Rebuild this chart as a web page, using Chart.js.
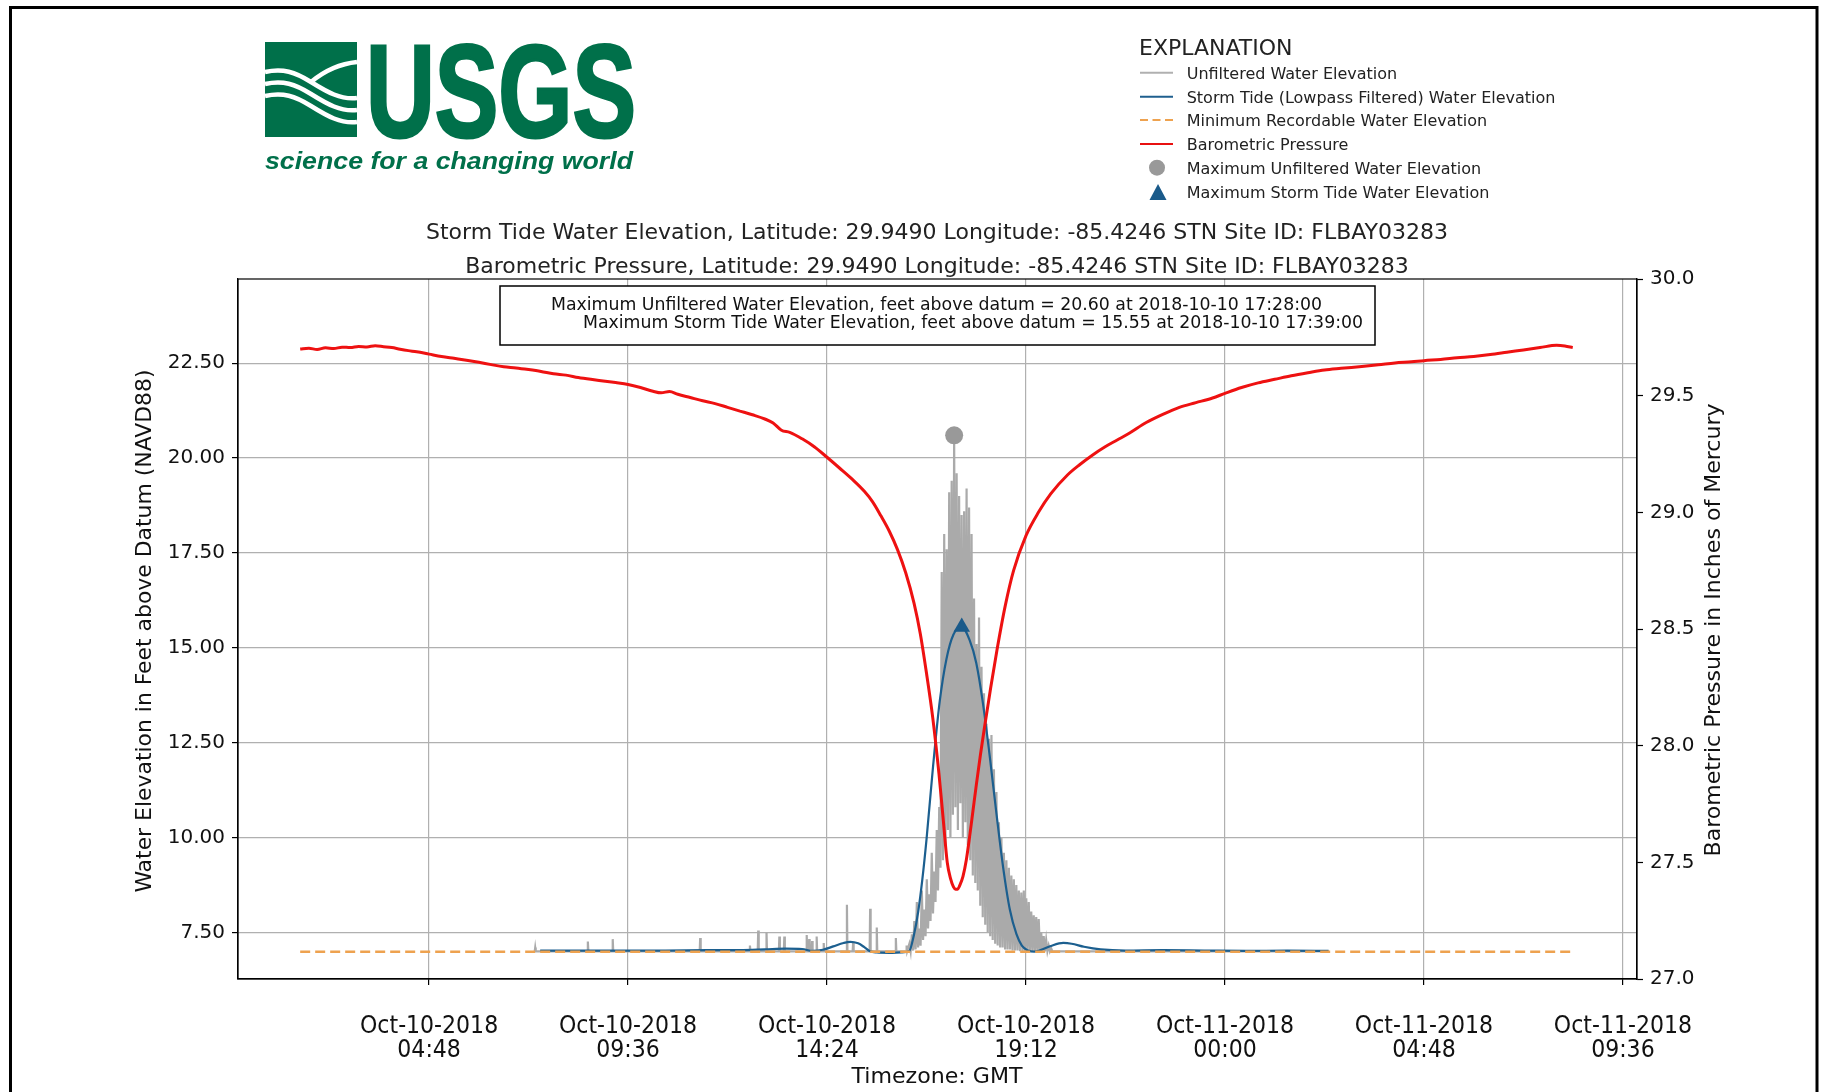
<!DOCTYPE html>
<html>
<head>
<meta charset="utf-8">
<title>Storm Tide Water Elevation - FLBAY03283</title>
<script src="https://cdn.jsdelivr.net/npm/chart.js@4.4.1/dist/chart.umd.min.js"></script>
<style>
  html, body { margin: 0; padding: 0; background: #fff; }
  #wrap { position: relative; width: 1823px; height: 1092px; overflow: hidden; }
  #chart { position: absolute; left: 0; top: 0; }
  #overlay { position: absolute; left: 0; top: 0; pointer-events: none; }
</style>
</head>
<body>
<div id="wrap">
<canvas id="chart" width="1823" height="1092"></canvas>
<svg id="overlay" width="1823" height="1092" viewBox="0 0 1823 1092" font-family="'DejaVu Sans', sans-serif">
  <!-- outer frame -->
  <rect x="10.5" y="7.5" width="1806.5" height="1200" fill="none" stroke="#000" stroke-width="3"/>

  <!-- logo -->
  <g transform="translate(265,42)">
    <rect x="0" y="0" width="92" height="95" fill="#00704a"/>
    <g fill="none" stroke="#fff" stroke-width="4.5">
      <path d="M0,30 C18,26 30,30 46,40 S76,58 92,56"/>
      <path d="M0,42 C18,38 30,42 46,52 S76,70 92,68"/>
      <path d="M0,54 C18,50 30,54 46,64 S76,82 92,80"/>
      <path d="M92,20 C72,22 58,30 46,40"/>
    </g>
  </g>
  <text x="366" y="137" font-family="'Liberation Sans', Arial, sans-serif" font-weight="bold" font-size="131"
        textLength="270" lengthAdjust="spacingAndGlyphs" fill="#00704a" stroke="#00704a" stroke-width="3">USGS</text>
  <text x="265" y="169" font-family="'Liberation Sans', Arial, sans-serif" font-weight="bold" font-style="italic" font-size="24"
        textLength="368" lengthAdjust="spacingAndGlyphs" fill="#00704a">science for a changing world</text>

  <!-- explanation -->
  <text x="1139" y="54.5" font-size="22" fill="#222">EXPLANATION</text>
  <g font-size="16" fill="#222">
    <line x1="1140" y1="72.7" x2="1173" y2="72.7" stroke="#b0b0b0" stroke-width="2"/>
    <text x="1186.7" y="78.5">Unfiltered Water Elevation</text>
    <line x1="1140" y1="96.7" x2="1173" y2="96.7" stroke="#1f5f8e" stroke-width="2"/>
    <text x="1186.7" y="102.5">Storm Tide (Lowpass Filtered) Water Elevation</text>
    <line x1="1140" y1="120" x2="1173" y2="120" stroke="#eea24f" stroke-width="2" stroke-dasharray="8,4.5"/>
    <text x="1186.7" y="125.8">Minimum Recordable Water Elevation</text>
    <line x1="1140" y1="144" x2="1173" y2="144" stroke="#e81010" stroke-width="2"/>
    <text x="1186.7" y="149.8">Barometric Pressure</text>
    <circle cx="1157" cy="167.7" r="8" fill="#999"/>
    <text x="1186.7" y="173.5">Maximum Unfiltered Water Elevation</text>
    <polygon points="1158,184 1149.5,200 1166.5,200" fill="#1a5a8a"/>
    <text x="1186.7" y="197.5">Maximum Storm Tide Water Elevation</text>
  </g>

  <!-- titles -->
  <text x="937" y="239" text-anchor="middle" font-size="22" fill="#222">Storm Tide Water Elevation, Latitude: 29.9490 Longitude: -85.4246 STN Site ID: FLBAY03283</text>
  <text x="937" y="273" text-anchor="middle" font-size="22" fill="#222">Barometric Pressure, Latitude: 29.9490 Longitude: -85.4246 STN Site ID: FLBAY03283</text>

  <!-- maxima box -->
  <rect x="500" y="286" width="875" height="59" fill="#fff" stroke="#000" stroke-width="1.5"/>
  <g font-family="'DejaVu Sans Condensed', 'DejaVu Sans', sans-serif" font-size="17" fill="#111">
    <text x="551" y="309.5" textLength="771" lengthAdjust="spacingAndGlyphs">Maximum Unfiltered Water Elevation, feet above datum = 20.60 at 2018-10-10 17:28:00</text>
    <text x="583" y="328.2" textLength="780" lengthAdjust="spacingAndGlyphs">Maximum Storm Tide Water Elevation, feet above datum = 15.55 at 2018-10-10 17:39:00</text>
  </g>

  <!-- axis titles -->
  <g font-family="'DejaVu Sans Condensed', 'DejaVu Sans', sans-serif" font-size="21" fill="#111">
    <text transform="translate(144,631) rotate(-90)" text-anchor="middle" dominant-baseline="central"
          textLength="523" lengthAdjust="spacingAndGlyphs">Water Elevation in Feet above Datum (NAVD88)</text>
    <text transform="translate(1713,630) rotate(-90)" text-anchor="middle" dominant-baseline="central"
          textLength="453" lengthAdjust="spacingAndGlyphs">Barometric Pressure in Inches of Mercury</text>
    <text x="937" y="1083" text-anchor="middle" font-size="22" textLength="171" lengthAdjust="spacingAndGlyphs">Timezone: GMT</text>
  </g>
</svg>
</div>
<script>
// x axis is hours since 2018-10-10 00:00 GMT
const tickHours = [4.8, 9.6, 14.4, 19.2, 24.0, 28.8, 33.6];
const tickDates = ["Oct-10-2018", "Oct-10-2018", "Oct-10-2018", "Oct-10-2018", "Oct-11-2018", "Oct-11-2018", "Oct-11-2018"];
const tickTimes = ["04:48", "09:36", "14:24", "19:12", "00:00", "04:48", "09:36"];
const elevTicks = [7.5, 10.0, 12.5, 15.0, 17.5, 20.0, 22.5];
const pressTicks = [27.0, 27.5, 28.0, 28.5, 29.0, 29.5, 30.0];

// barometric pressure, inches of mercury
const presHours = [1.69, 1.9, 2.1, 2.3, 2.5, 2.7, 2.9, 3.1, 3.3, 3.5, 3.7, 3.9, 4.1, 4.3, 4.5, 4.8,
  5.1, 5.4, 5.7, 6.0, 6.3, 6.6, 6.9, 7.2, 7.5, 7.8, 8.1, 8.4, 8.7, 9.0, 9.3, 9.6, 9.9, 10.2, 10.4,
  10.6, 10.8, 11.1, 11.4, 11.7, 12.0, 12.3, 12.6, 12.9, 13.1, 13.3, 13.5, 13.8, 14.1, 14.4, 14.7,
  15.0, 15.3, 15.5, 15.7, 15.9, 16.1, 16.3, 16.5, 16.65, 16.8, 16.95, 17.1, 17.2, 17.3, 17.38, 17.45,
  17.5, 17.55, 17.6, 17.68, 17.76, 17.84, 17.92, 18.0, 18.1, 18.2, 18.35, 18.5, 18.7, 18.9, 19.2,
  19.5, 19.8, 20.2, 20.5, 20.8, 21.1, 21.4, 21.7, 22.1, 22.5, 22.9, 23.3, 23.7, 24.0, 24.4, 24.8,
  25.2, 25.6, 26.0, 26.4, 26.8, 27.3, 27.7, 28.1, 28.5, 28.8, 29.2, 29.6, 30.0, 30.4, 30.8, 31.2,
  31.6, 32.0, 32.2, 32.39];
const presInHg = [29.700, 29.703, 29.698, 29.705, 29.702, 29.708, 29.706, 29.711, 29.709, 29.714,
  29.710, 29.706, 29.699, 29.693, 29.688, 29.678, 29.668, 29.660, 29.652, 29.643, 29.633, 29.624,
  29.619, 29.612, 29.604, 29.594, 29.588, 29.578, 29.570, 29.563, 29.556, 29.548, 29.535, 29.519,
  29.512, 29.518, 29.506, 29.492, 29.478, 29.466, 29.450, 29.434, 29.418, 29.400, 29.383, 29.352,
  29.343, 29.315, 29.280, 29.236, 29.190, 29.143, 29.090, 29.045, 28.985, 28.920, 28.840, 28.740,
  28.610, 28.480, 28.310, 28.120, 27.880, 27.690, 27.500, 27.430, 27.395, 27.385, 27.385, 27.400,
  27.440, 27.510, 27.610, 27.720, 27.830, 27.960, 28.080, 28.250, 28.410, 28.600, 28.750, 28.900,
  29.000, 29.080, 29.160, 29.205, 29.245, 29.280, 29.310, 29.340, 29.385, 29.420, 29.450, 29.470,
  29.490, 29.510, 29.535, 29.555, 29.570, 29.585, 29.598, 29.610, 29.617, 29.625, 29.632, 29.640,
  29.645, 29.650, 29.655, 29.662, 29.668, 29.676, 29.686, 29.696, 29.706, 29.716, 29.713, 29.706];

// storm tide (lowpass filtered), feet
const tideHours = [7.48, 8.5, 9.5, 10.5, 11.5, 12.3, 12.9, 13.4, 13.8, 14.05, 14.3, 14.55, 14.8,
  14.96, 15.15, 15.3, 15.44, 15.6, 15.9, 16.2, 16.38, 16.5, 16.6, 16.7, 16.8, 16.96, 17.12, 17.28,
  17.45, 17.65, 17.84, 18.0, 18.16, 18.33, 18.49, 18.65, 18.81, 18.97, 19.1, 19.25, 19.4, 19.55,
  19.8, 20.1, 20.3, 20.6, 21.0, 21.6, 22.5, 23.5, 24.5, 25.5, 26.5];
const tideFeet = [7.02, 7.02, 7.02, 7.02, 7.03, 7.03, 7.05, 7.07, 7.06, 7.01, 7.04, 7.13, 7.22,
  7.25, 7.21, 7.11, 7.00, 6.97, 6.96, 6.97, 7.00, 7.45, 8.05, 8.90, 9.95, 11.90, 13.60, 14.70,
  15.35, 15.55, 15.20, 14.60, 13.55, 12.10, 10.60, 9.20, 8.10, 7.45, 7.15, 7.02, 6.99, 7.03,
  7.14, 7.22, 7.20, 7.12, 7.05, 7.02, 7.03, 7.02, 7.01, 7.02, 7.01];

// unfiltered water elevation, feet: isolated spikes before the surge
const grayFloorFeet = 7.0;
const spikeHours = [7.36, 8.63, 9.23, 11.34, 12.54, 12.74, 12.94, 13.25, 13.37, 13.91, 13.97,
  14.04, 14.15, 14.32, 14.88, 15.03, 15.44, 15.60, 16.06, 16.32];
const spikeFeet = [7.10, 7.26, 7.32, 7.35, 7.15, 7.55, 7.50, 7.39, 7.39, 7.43, 7.32,
  7.27, 7.39, 7.22, 8.23, 7.23, 8.12, 7.63, 7.35, 7.15];
// surge samples, one every 0.03 h from 16:23
const peakStartHour = 16.3867;
const peakStepHour = 0.03;
const peakFeet = [
  7.20, 7.00, 7.45, 7.02, 7.80, 7.05, 8.30, 7.10, 7.60, 7.15,
  8.60, 7.30, 8.10, 7.40, 8.90, 7.60, 8.50, 7.80, 9.60, 8.00,
  9.10, 8.30, 10.20, 8.60, 10.80, 9.20, 17.00, 9.40, 18.00, 9.80,
  17.60, 10.20, 19.10, 10.00, 19.40, 10.60, 20.60, 10.80, 19.60, 10.20,
  19.00, 10.90, 18.50, 10.00, 18.60, 10.40, 19.20, 9.80, 18.70, 9.40,
  18.00, 9.00, 16.30, 8.80, 15.10, 8.60, 15.80, 8.20, 14.50, 7.90,
  13.80, 7.70, 13.00, 7.50, 12.60, 7.40, 12.70, 7.30, 11.80, 7.20,
  11.20, 7.15, 10.40, 7.10, 10.00, 7.10, 9.60, 7.05, 9.40, 7.05,
  9.20, 7.05, 9.00, 7.02, 8.90, 7.02, 8.75, 7.02, 8.60, 7.00,
  8.55, 7.00, 8.60, 7.00, 8.40, 7.00, 8.30, 7.00, 8.05, 7.00,
  7.95, 7.00, 7.90, 7.00, 7.85, 7.00, 7.50, 7.00, 7.40, 7.00,
  7.30, 7.00, 7.15, 7.00, 7.08, 7.00];
const grayEndHour = 26.5;

const minRecordableFeet = 6.99;
const recordStartHour = 1.69;
const recordEndHour = 32.39;
const maxUnfiltered = { hour: 17.4667, feet: 20.60 };
const maxStormTide = { hour: 17.65, feet: 15.55 };

const zip = (xs, ys) => xs.map((x, i) => ({ x, y: ys[i] }));

function buildUnfiltered() {
  const pts = [{ x: 7.33, y: grayFloorFeet }];
  spikeHours.forEach((h, i) => {
    pts.push({ x: h - 0.012, y: grayFloorFeet }, { x: h, y: spikeFeet[i] }, { x: h + 0.012, y: grayFloorFeet });
  });
  peakFeet.forEach((v, i) => pts.push({ x: peakStartHour + i * peakStepHour, y: v }));
  pts.push({ x: grayEndHour, y: grayFloorFeet });
  return pts;
}

const TICK_FONT = "'DejaVu Sans', sans-serif";
const COND_FONT = "'DejaVu Sans Condensed', 'DejaVu Sans', sans-serif";

const axesBox = {
  id: "axesBox",
  afterDraw(chart) {
    const { ctx, chartArea: a } = chart;
    ctx.save();
    ctx.strokeStyle = "#000";
    ctx.lineWidth = 1.2;
    ctx.strokeRect(a.left, a.top, a.right - a.left, a.bottom - a.top);
    ctx.restore();
  }
};

new Chart(document.getElementById("chart"), {
  type: "line",
  data: {
    datasets: [
      {
        label: "Maximum Unfiltered Water Elevation",
        data: [{ x: maxUnfiltered.hour, y: maxUnfiltered.feet }],
        yAxisID: "y", showLine: false, order: 0,
        pointStyle: "circle", pointRadius: 9, pointBackgroundColor: "#999", pointBorderWidth: 0
      },
      {
        label: "Maximum Storm Tide Water Elevation",
        data: [{ x: maxStormTide.hour, y: maxStormTide.feet }],
        yAxisID: "y", showLine: false, order: 0,
        pointStyle: "triangle", pointRadius: 9.5, pointBackgroundColor: "#1a5a8a", pointBorderWidth: 0
      },
      {
        label: "Barometric Pressure",
        data: zip(presHours, presInHg),
        yAxisID: "y2", order: 1,
        borderColor: "#ee1111", borderWidth: 3, pointRadius: 0, cubicInterpolationMode: "monotone"
      },
      {
        label: "Minimum Recordable Water Elevation",
        data: [{ x: recordStartHour, y: minRecordableFeet }, { x: recordEndHour, y: minRecordableFeet }],
        yAxisID: "y", order: 2,
        borderColor: "#eea24f", borderWidth: 2.5, borderDash: [10, 5], pointRadius: 0
      },
      {
        label: "Storm Tide (Lowpass Filtered) Water Elevation",
        data: zip(tideHours, tideFeet),
        yAxisID: "y", order: 3,
        borderColor: "#1c5f8f", borderWidth: 2.2, pointRadius: 0, cubicInterpolationMode: "monotone"
      },
      {
        label: "Unfiltered Water Elevation",
        data: buildUnfiltered(),
        yAxisID: "y", order: 4,
        borderColor: "#aaaaaa", borderWidth: 2.2, pointRadius: 0, tension: 0
      }
    ]
  },
  options: {
    responsive: false,
    animation: false,
    layout: { padding: { top: 279, left: 0, right: 0, bottom: 0 } },
    plugins: { legend: { display: false }, tooltip: { enabled: false } },
    scales: {
      x: {
        type: "linear", position: "bottom", min: 0.19, max: 33.94,
        afterBuildTicks: s => { s.ticks = tickHours.map(v => ({ value: v })); },
        afterFit: s => { s.height = 113; },
        ticks: {
          autoSkip: false, maxRotation: 0, padding: 30, color: "#111",
          font: { family: COND_FONT, size: 24.5, lineHeight: 0.98 },
          callback: (v, i) => [tickDates[i], tickTimes[i]]
        },
        grid: { color: "#b0b0b0", lineWidth: 1.2, tickLength: 6, tickColor: "#000", tickWidth: 1.2 },
        border: { color: "#000", width: 1.2 }
      },
      y: {
        position: "left", min: 6.27, max: 24.72,
        afterBuildTicks: s => { s.ticks = elevTicks.map(v => ({ value: v })); },
        afterFit: s => { s.width = 238; },
        ticks: {
          padding: 7, color: "#111", font: { family: TICK_FONT, size: 20 },
          callback: v => v.toFixed(2)
        },
        grid: { color: "#b0b0b0", lineWidth: 1.2, tickLength: 6, tickColor: "#000", tickWidth: 1.2 },
        border: { color: "#000", width: 1.2 }
      },
      y2: {
        position: "right", min: 27, max: 30,
        afterBuildTicks: s => { s.ticks = pressTicks.map(v => ({ value: v })); },
        afterFit: s => { s.width = 186; },
        ticks: {
          padding: 7, color: "#111", font: { family: TICK_FONT, size: 20 },
          callback: v => v.toFixed(1)
        },
        grid: { drawOnChartArea: false, tickLength: 6, tickColor: "#000", tickWidth: 1.2 },
        border: { color: "#000", width: 1.2 }
      }
    }
  },
  plugins: [axesBox]
});
</script>
</body>
</html>
